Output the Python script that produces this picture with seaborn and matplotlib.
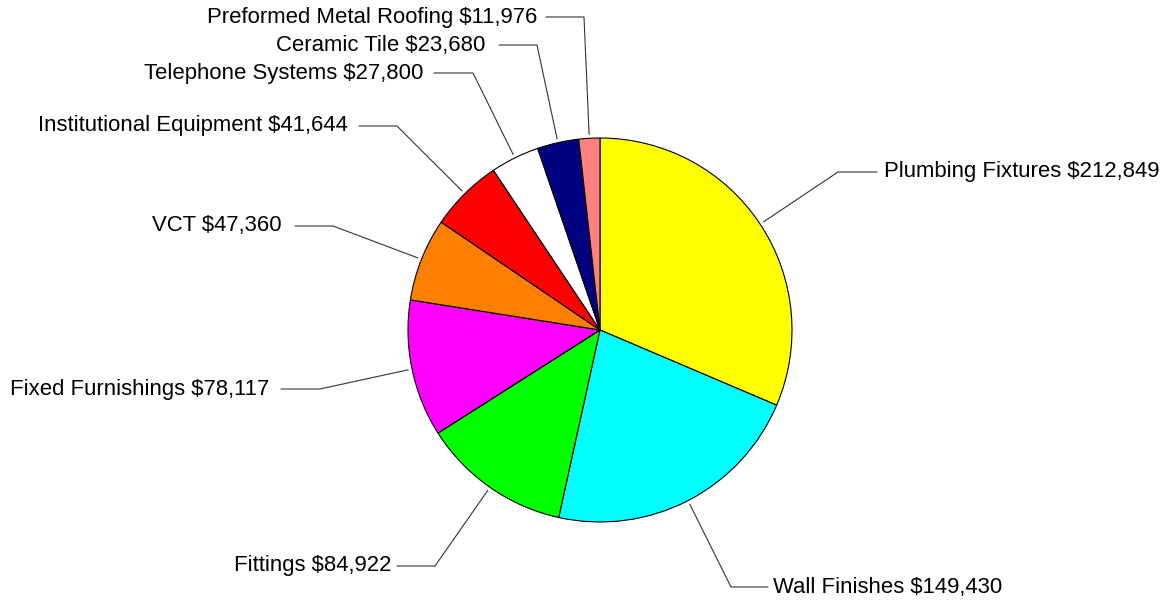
import numpy as np
import matplotlib
matplotlib.use("Agg")
import matplotlib.pyplot as plt
import seaborn as sns

# Cost breakdown by trade, clockwise from 12 o'clock
trades = ['Plumbing Fixtures', 'Wall Finishes', 'Fittings', 'Fixed Furnishings',
          'VCT', 'Institutional Equipment', 'Telephone Systems', 'Ceramic Tile',
          'Preformed Metal Roofing']
costs = [212849, 149430, 84922, 78117, 47360, 41644, 27800, 23680, 11976]
slice_colors = ['#FFFF00', '#00FFFF', '#00FF00', '#FF00FF', '#FF8000',
                '#FF0000', '#FFFFFF', '#000080', '#FF8080']

# label layout in pixels: elbow x, row y, end of horizontal leader, text x, side
label_layout = {
    'Plumbing Fixtures':       (838, 172, 877, 884, 'left'),
    'Wall Finishes':           (731, 587, 768, 773, 'left'),
    'Fittings':                (435, 566, 397, 392, 'right'),
    'Fixed Furnishings':       (320, 389, 281, 269, 'right'),
    'VCT':                     (333, 226, 295, 282, 'right'),
    'Institutional Equipment': (397, 126, 359, 348, 'right'),
    'Telephone Systems':       (473, 73, 434, 423, 'right'),
    'Ceramic Tile':            (537, 45, 499, 485, 'right'),
    'Preformed Metal Roofing': (584, 17, 546, 537, 'right'),
}

sns.set_style('white')
plt.rcParams['font.family'] = ['Liberation Sans', 'DejaVu Sans']

W, H = 1166, 602
fig = plt.figure(figsize=(W / 100, H / 100), dpi=100)
ax = fig.add_axes([0, 0, 1, 1])

cx, cy, R = 600, H - 330, 192
wedges, _ = ax.pie(costs, colors=slice_colors, startangle=90, counterclock=False,
                   center=(cx, cy), radius=R,
                   wedgeprops=dict(edgecolor='black', linewidth=0.8))

for w, name, val in zip(wedges, trades, costs):
    mid = np.deg2rad((w.theta1 + w.theta2) / 2)
    ax0 = cx + 1.02 * R * np.cos(mid)
    ay0 = cy + 1.02 * R * np.sin(mid)
    ex, ey, hx, tx, side = label_layout[name]
    ey = H - ey
    ax.plot([ax0, ex, hx], [ay0, ey, ey], color='#333333', lw=0.8,
            solid_joinstyle='miter')
    ax.text(tx, ey, f'{name} ${val:,}', ha=side, va='center',
            fontsize=15.9, color='black')

ax.set_xlim(0, W)
ax.set_ylim(0, H)
ax.set_aspect('equal')
ax.axis('off')

fig.savefig('out.png', dpi=100, facecolor='white')
